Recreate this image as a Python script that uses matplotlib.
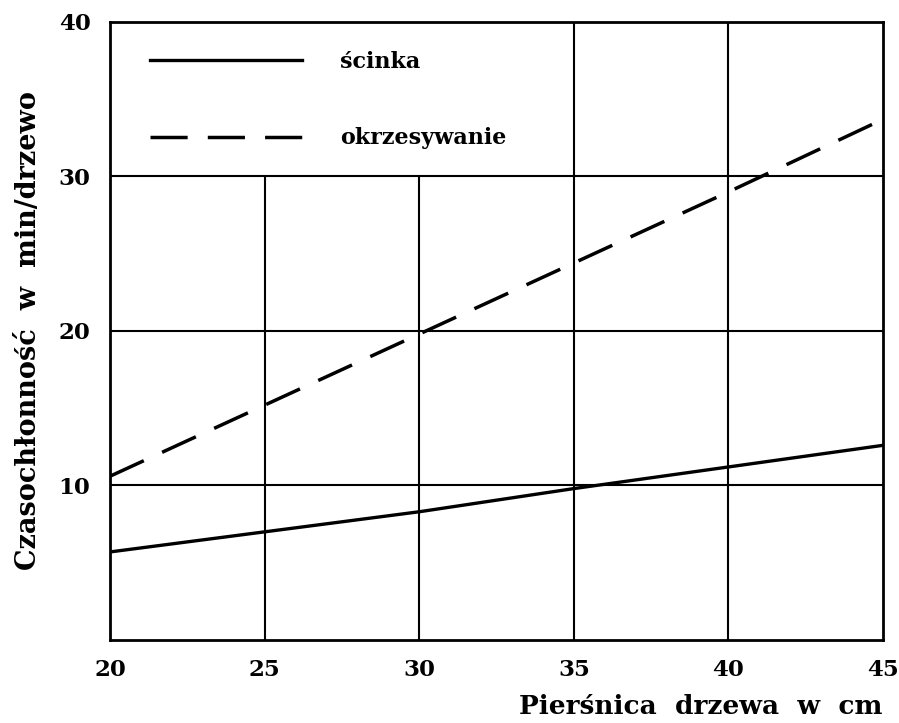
import matplotlib
matplotlib.use("Agg")
import matplotlib.pyplot as plt

# Data
diameter_cm = [20, 25, 30, 35, 40, 45]
felling_min = [5.7, 7.0, 8.3, 9.8, 11.2, 12.6]      # ścinka
delimbing_min = [10.6, 15.2, 19.8, 24.4, 29.0, 33.7]  # okrzesywanie

x_ticks = [20, 25, 30, 35, 40, 45]
y_ticks = [10, 20, 30, 40]

FONT = "DejaVu Serif"

fig = plt.figure(figsize=(8.99, 7.23), dpi=100)
ax = fig.add_axes([0.1224, 0.1148, 0.8598, 0.8548])

# grid (upper-left corner is left clear for the key)
ax.hlines([10, 20, 30], 20, 45, color="black", linewidth=1.5, zorder=1)
ax.vlines([25, 30], 0, 30, color="black", linewidth=1.5, zorder=1)
ax.vlines([35, 40], 0, 40, color="black", linewidth=1.5, zorder=1)

ax.plot(diameter_cm, felling_min, color="black", linewidth=2.4,
        label="ścinka", zorder=3)
ax.plot(diameter_cm, delimbing_min, color="black", linewidth=2.5,
        dashes=(10.7, 5.8), label="okrzesywanie", zorder=3)

ax.set_xlim(20, 45)
ax.set_ylim(0, 40)
ax.set_xticks(x_ticks)
ax.set_yticks(y_ticks)
ax.tick_params(length=0, pad=14)
for lbl in ax.get_xticklabels() + ax.get_yticklabels():
    lbl.set_fontfamily(FONT)
    lbl.set_fontweight("bold")
    lbl.set_fontsize(16.5)

for s in ax.spines.values():
    s.set_linewidth(2)
    s.set_color("black")

ax.set_xlabel("Pierśnica  drzewa  w  cm", fontfamily=FONT, fontweight="bold",
              fontsize=19, loc="right", labelpad=9)
ax.set_ylabel("Czasochłonność  w  min/drzewo", fontfamily=FONT, fontweight="bold",
              fontsize=19.5, loc="center", labelpad=12)

leg = ax.legend(loc="upper left", bbox_to_anchor=(0.052, 0.953), frameon=False,
                borderpad=0, borderaxespad=0, handlelength=6.85, handletextpad=1.7,
                labelspacing=2.45, prop={"family": FONT, "weight": "bold", "size": 16})

fig.savefig("out.png", dpi=100, facecolor="white")
